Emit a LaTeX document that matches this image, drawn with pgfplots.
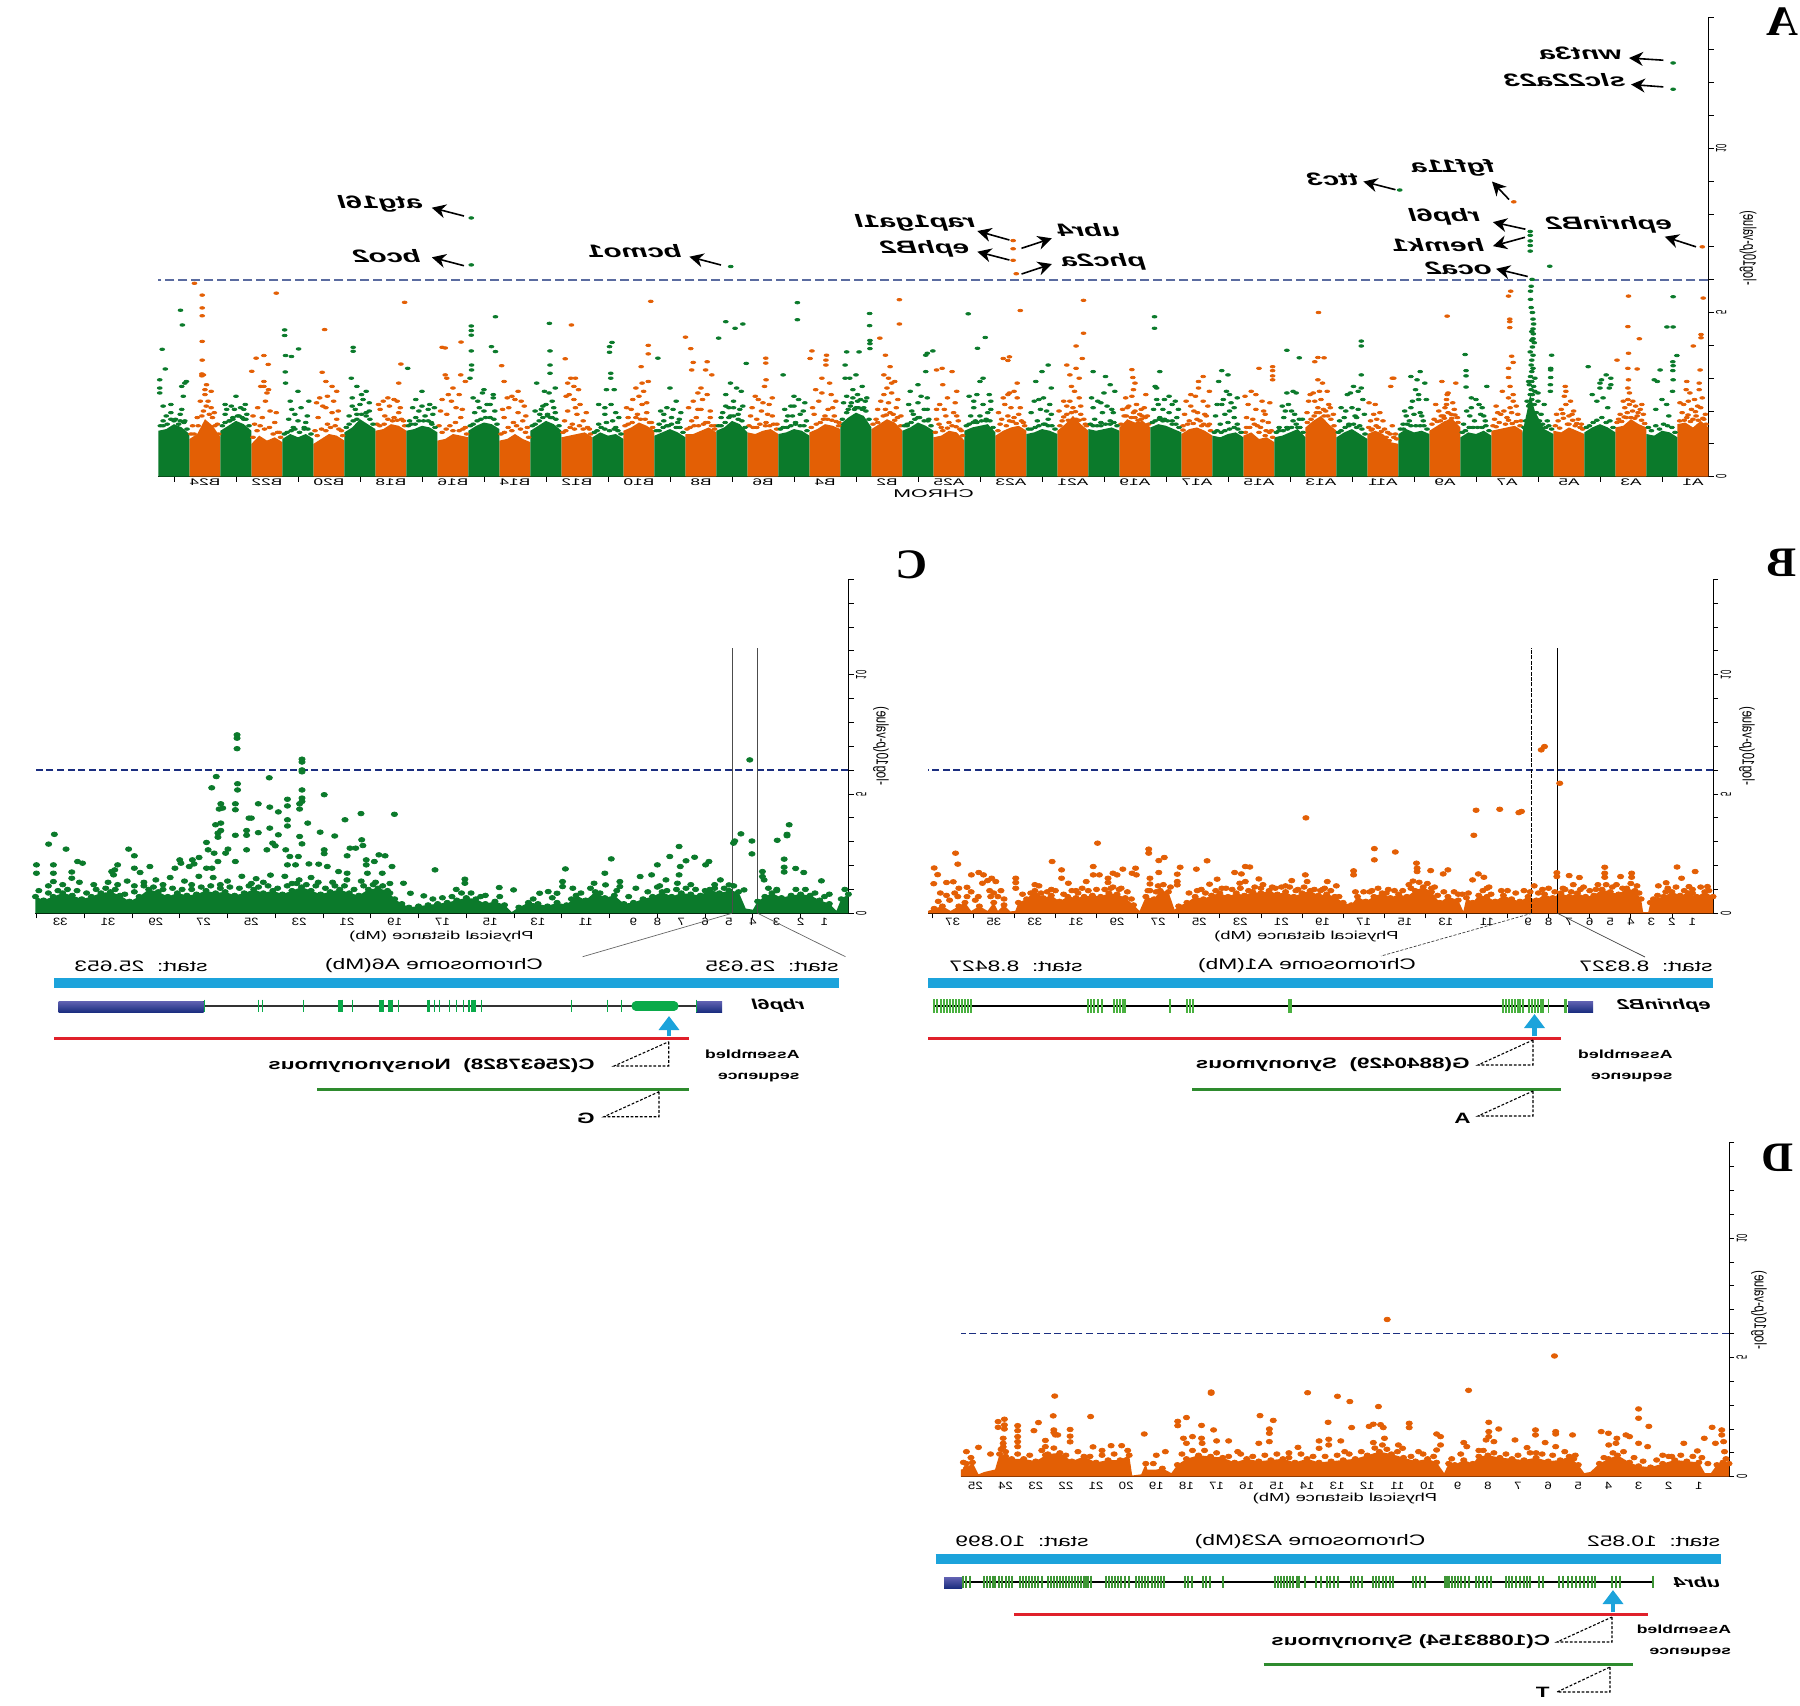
\documentclass[border=0pt]{standalone}
\usepackage{fontspec}
\setmainfont{Liberation Sans}
\newfontfamily\serifbf{Liberation Serif}[Scale=1]
\usepackage{pgfplots}
\pgfplotsset{compat=1.18}
\usetikzlibrary{arrows.meta}
\definecolor{org}{HTML}{E35F05}
\definecolor{grn}{HTML}{0B7A2B}
\definecolor{exon}{HTML}{49B03F}
\definecolor{exonb}{HTML}{0AAA4A}
\definecolor{skyb}{HTML}{1CA3DB}
\definecolor{thrA}{HTML}{5A6BA0}
\definecolor{thrB}{HTML}{1B2E80}
\definecolor{redl}{HTML}{E0202A}
\definecolor{grnl}{HTML}{2E8B2E}
% the whole figure is a mirror image, and stretched sideways
\newcommand{\M}[2][1.5]{\scalebox{-#1}[1]{#2}}
\newcommand{\R}[2][1.9]{\scalebox{-#1}[1]{\rotatebox{90}{#2}}}
\newcommand{\gn}{\fontsize{9}{9}\selectfont\bfseries\itshape}
\pgfplotsset{
  manh/.style={
    scale only axis, anchor=south west, x dir=reverse,
    axis x line*=bottom, axis y line*=right,
    xmin=0, ymin=0, ymax=14,
    ytick={0,5,10}, minor ytick={1,2,3,4,6,7,8,9,11,12,13,14},
    yticklabels={\R{0},\R{5},\R{10}},
    tick align=outside, major tick length=2.6pt, minor tick length=2.6pt,
    every tick/.style={black,line width=.4pt},
    axis line style={line width=.5pt},
    yticklabel style={font=\fontsize{3.9}{4}\selectfont,inner sep=1pt,anchor=west},
    xticklabel style={inner sep=1pt,yshift=1.2pt},
    clip=false,
  },
  dots/.style={only marks,mark=*,mark size=#1,draw=none,mark options={xscale=1.15,yscale=.85}},
  dotsA/.style={only marks,mark=*,mark size=#1,draw=none,mark options={xscale=1.6,yscale=.85}},
}
\begin{document}
\begin{tikzpicture}
\path[use as bounding box] (0pt,0pt) rectangle (900pt,852.5pt);
% ---------------- A : genome wide
\begin{axis}[manh, at={(79.25pt,614.15pt)}, width=775pt, height=229.85pt, xmax=50,
  xtick={0.5,2.5,...,48.5}, minor xtick={1.5,3.5,...,49.5},
  every major x tick/.style={draw=none},
  xticklabels={\M[1.8]{A1},\M[1.8]{A3},\M[1.8]{A5},\M[1.8]{A7},\M[1.8]{A9},\M[1.8]{A11},\M[1.8]{A13},\M[1.8]{A15},\M[1.8]{A17},\M[1.8]{A19},\M[1.8]{A21},\M[1.8]{A23},\M[1.8]{A25},\M[1.8]{B2},\M[1.8]{B4},\M[1.8]{B6},\M[1.8]{B8},\M[1.8]{B10},\M[1.8]{B12},\M[1.8]{B14},\M[1.8]{B16},\M[1.8]{B18},\M[1.8]{B20},\M[1.8]{B22},\M[1.8]{B24}},
  xticklabel style={font=\fontsize{4.8}{5}\selectfont,yshift=1.6pt}]
\addplot[fill=org,draw=none] coordinates {(0,0)(0,1.5)(.25,1.7)(.5,1.5)(.75,1.65)(1,1.6)(1,0)
 (2,0)(2,1.5)(2.25,1.6)(2.5,1.75)(2.75,1.55)(3,1.5)(3,0)
 (4,0)(4,1.3)(4.25,1.4)(4.5,1.5)(4.75,1.35)(5,1.4)(5,0)
 (6,0)(6,1.4)(6.25,1.55)(6.5,1.5)(6.75,1.45)(7,1.4)(7,0)
 (8,0)(8,1.5)(8.25,1.75)(8.5,1.7)(8.75,1.55)(9,1.4)(9,0)
 (10,0)(10,1)(10.25,1.05)(10.5,1.3)(10.75,1.4)(11,1.3)(11,0)
 (12,0)(12,1.4)(12.25,1.6)(12.5,1.85)(12.75,1.7)(13,1.5)(13,0)
 (14,0)(14,1.05)(14.25,1.2)(14.5,1.15)(14.75,1.35)(15,1.25)(15,0)
 (16,0)(16,1.25)(16.25,1.4)(16.5,1.5)(16.75,1.45)(17,1.3)(17,0)
 (18,0)(18,1.5)(18.25,1.7)(18.5,1.65)(18.75,1.75)(19,1.5)(19,0)
 (20,0)(20,1.4)(20.25,1.6)(20.5,1.85)(20.75,1.6)(21,1.4)(21,0)
 (22,0)(22,1.4)(22.25,1.55)(22.5,1.5)(22.75,1.4)(23,1.25)(23,0)
 (24,0)(24,1.1)(24.25,1.35)(24.5,1.4)(24.75,1.25)(25,1.2)(25,0)
 (26,0)(26,1.4)(26.25,1.65)(26.5,1.75)(26.75,1.6)(27,1.45)(27,0)
 (28,0)(28,1.45)(28.25,1.55)(28.5,1.6)(28.75,1.45)(29,1.35)(29,0)
 (30,0)(30,1.3)(30.25,1.45)(30.5,1.4)(30.75,1.3)(31,1.35)(31,0)
 (32,0)(32,1.35)(32.25,1.5)(32.5,1.4)(32.75,1.3)(33,1.3)(33,0)
 (34,0)(34,1.4)(34.25,1.55)(34.5,1.65)(34.75,1.5)(35,1.4)(35,0)
 (36,0)(36,1.2)(36.25,1.35)(36.5,1.3)(36.75,1.25)(37,1.2)(37,0)
 (38,0)(38,1.05)(38.25,1.15)(38.5,1.3)(38.75,1.15)(39,1.1)(39,0)
 (40,0)(40,1.2)(40.25,1.25)(40.5,1.3)(40.75,1.15)(41,1.1)(41,0)
 (42,0)(42,1.4)(42.25,1.55)(42.5,1.6)(42.75,1.45)(43,1.4)(43,0)
 (44,0)(44,1.1)(44.25,1.25)(44.5,1.3)(44.75,1.15)(45,1)(45,0)
 (46,0)(46,1.05)(46.25,1.2)(46.5,1.1)(46.75,1.25)(47,1)(47,0)
 (48,0)(48,1.2)(48.25,1.55)(48.5,1.75)(48.75,1.3)(49,1.15)(49,0)};
\addplot[fill=grn,draw=none] coordinates {(1,0)(1,1.2)(1.25,1.35)(1.5,1.4)(1.75,1.25)(2,1.3)(2,0)
 (3,0)(3,1.35)(3.25,1.5)(3.5,1.6)(3.75,1.5)(4,1.35)(4,0)
 (5,0)(5,1.3)(5.3,1.45)(5.6,2)(5.75,2.5)(5.85,2)(6,1.35)(6,0)
 (7,0)(7,1.25)(7.25,1.4)(7.5,1.3)(7.75,1.35)(8,1.2)(8,0)
 (9,0)(9,1.3)(9.25,1.4)(9.5,1.35)(9.75,1.45)(10,1.3)(10,0)
 (11,0)(11,1.15)(11.25,1.3)(11.5,1.45)(11.75,1.35)(12,1.2)(12,0)
 (13,0)(13,1.2)(13.25,1.45)(13.5,1.35)(13.75,1.25)(14,1.2)(14,0)
 (15,0)(15,1.2)(15.25,1.35)(15.5,1.3)(15.75,1.2)(16,1.25)(16,0)
 (17,0)(17,1.35)(17.25,1.45)(17.5,1.55)(17.75,1.6)(18,1.5)(18,0)
 (19,0)(19,1.4)(19.25,1.5)(19.5,1.45)(19.75,1.4)(20,1.45)(20,0)
 (21,0)(21,1.3)(21.25,1.4)(21.5,1.45)(21.75,1.35)(22,1.3)(22,0)
 (23,0)(23,1.35)(23.25,1.6)(23.5,1.55)(23.75,1.5)(24,1.4)(24,0)
 (25,0)(25,1.4)(25.25,1.55)(25.5,1.65)(25.75,1.5)(26,1.4)(26,0)
 (27,0)(27,1.5)(27.25,1.85)(27.5,1.95)(27.75,1.8)(28,1.6)(28,0)
 (29,0)(29,1.25)(29.25,1.4)(29.5,1.45)(29.75,1.35)(30,1.3)(30,0)
 (31,0)(31,1.35)(31.25,1.6)(31.5,1.7)(31.75,1.5)(32,1.4)(32,0)
 (33,0)(33,1.2)(33.25,1.35)(33.5,1.45)(33.75,1.35)(34,1.25)(34,0)
 (35,0)(35,1.15)(35.25,1.3)(35.5,1.25)(35.75,1.35)(36,1.2)(36,0)
 (37,0)(37,1.4)(37.25,1.6)(37.5,1.7)(37.75,1.55)(38,1.4)(38,0)
 (39,0)(39,1.45)(39.25,1.6)(39.5,1.65)(39.75,1.55)(40,1.4)(40,0)
 (41,0)(41,1.35)(41.25,1.5)(41.5,1.55)(41.75,1.45)(42,1.4)(42,0)
 (43,0)(43,1.45)(43.25,1.6)(43.5,1.75)(43.75,1.5)(44,1.35)(44,0)
 (45,0)(45,1.15)(45.25,1.3)(45.5,1.2)(45.75,1.3)(46,1.15)(46,0)
 (47,0)(47,1.4)(47.25,1.6)(47.5,1.7)(47.75,1.55)(48,1.4)(48,0)
 (49,0)(49,1.3)(49.25,1.5)(49.5,1.6)(49.75,1.45)(50,1.4)(50,0)};
\addplot[dotsA=.75pt,org] coordinates {(.2,7)(.17,5.44)(.24,4.33)(.24,4.23)(.49,3.98)(.27,3.25)(.7,2.9)(.3,2.85)(2.58,5.5)(2.6,4.57)(2.23,4.2)(2.58,3.76)(2.95,3.55)(2.6,3.3)(2.3,3.28)(6.28,8.37)(6.38,5.65)(6.45,5.5)(6.41,4.8)(6.41,4.72)(6.41,4.54)(6.35,3.67)(6.3,3.48)(6.45,3.3)(6.45,3.02)(8.43,4.89)(12.58,5)(12.6,3.63)(12.4,3.62)(12.7,3.5)(10.2,3)(14.5,3.3)(14.06,3.35)(14.06,3.23)(14.06,3.07)(14.06,2.95)(18.6,3.26)(18.57,3.02)(18.5,2.85)(16.3,3.05)(16.45,2.9)(16.1,2.6)
 (.1,1.9)(.25,2.1)(.4,1.85)(.55,2.05)(.7,1.8)(.85,1.95)(.2,2.4)(.45,2.35)(.65,2.3)(.3,2.65)(.72,2.65)(.6,2.55)(.15,1.75)(.8,2.2)(.5,1.75)
 (2.1,1.9)(2.2,2.05)(2.3,1.85)(2.45,2)(2.55,2.2)(2.6,2.35)(2.7,2.1)(2.85,1.9)(2.55,2.55)(2.6,2.7)(2.58,2.95)(2.35,2.15)(2.75,2.3)(2.5,1.8)(2.9,1.75)(2.65,1.8)
 (4.1,1.6)(4.2,1.75)(4.35,2)(4.5,1.85)(4.6,2.2)(4.65,2.45)(4.6,2.6)(4.62,2.75)(4.75,2.05)(4.85,1.7)(4.3,1.55)(4.45,2.3)(4.9,1.9)(4.55,1.6)
 (6.05,1.7)(6.15,1.9)(6.3,2.3)(6.4,2.1)(6.5,1.8)(6.6,2)(6.7,1.9)(6.9,1.75)(6.3,2.5)(6.45,2.4)(6.4,2.75)(6.65,2.6)(6.85,2.15)(6.2,2.15)
 (8.1,1.8)(8.2,2.05)(8.3,1.9)(8.45,2.2)(8.55,1.85)(8.7,2)(8.85,1.75)(8.4,2.55)(8.45,2.35)(8.6,2.9)(8.15,2.85)(8.8,2.2)(8.35,1.7)(8.65,1.7)(8.43,2.5)
 (10.1,1.3)(10.2,1.55)(10.35,1.35)(10.5,1.7)(10.65,1.5)(10.8,1.9)(10.9,1.7)(10.75,2.2)(10.95,2.25)(10.25,2.75)(10.15,3)(10.85,1.45)(10.4,1.2)(10.6,1.95)(10.3,1.1)
 (12.1,1.9)(12.2,2.1)(12.35,2)(12.5,2.35)(12.6,2.1)(12.75,2.55)(12.9,2.3)(12.3,2.6)(12.55,2.6)(12.7,2.3)(12.85,2.5)(12.6,2.95)(12.4,1.85)(12.65,1.95)(12.45,2.85)
 (14.1,1.4)(14.2,1.65)(14.3,1.9)(14.45,1.5)(14.6,2.05)(14.7,1.75)(14.85,2.2)(14.9,1.5)(14.15,2.25)(14.4,2.3)(14.6,2.5)(14.75,2.6)(14.95,2.45)(14.5,1.35)(14.3,1.25)
 (16.1,1.6)(16.2,1.85)(16.35,1.55)(16.5,1.75)(16.6,2)(16.75,1.7)(16.9,1.9)(16.3,2.3)(16.55,2.45)(16.7,2.5)(16.45,2.7)(16.85,2.3)(16.15,2.15)(16.95,1.55)
 (18.1,1.85)(18.2,2.1)(18.35,1.9)(18.45,2.2)(18.55,1.95)(18.7,2.15)(18.85,1.85)(18.6,2.45)(18.55,2.65)(18.15,2.5)(18.8,2.4)(18.3,1.75)(18.9,2.05)(18.5,1.8)
 (20.1,1.6)(20.25,1.9)(20.4,1.75)(20.5,2.1)(20.6,2.3)(20.7,1.9)(20.85,1.7)(20.45,2.6)(20.55,2.75)(20.3,2.4)(20.8,2.3)(20.95,2)(20.6,3.1)(20.4,3.3)(20.2,3.6)(20.4,3.98)(20.16,4.37)(20.16,5.37)(20.3,3)(20.7,3.4)
 (22.1,1.65)(22.25,1.9)(22.4,1.8)(22.5,2.1)(22.6,1.85)(22.7,2.2)(22.85,1.6)(22.3,2.4)(22.55,2.55)(22.75,2.4)(22.4,2.6)(22.6,2.5)(22.2,5.06)(22.6,3.54)(22.75,3.6)(22.55,3.65)(22.3,2.85)(22.43,7.19)(22.43,6.94)(22.43,6.59)(22.33,6.18)
 (24.1,1.4)(24.2,1.7)(24.35,1.95)(24.5,1.65)(24.6,1.85)(24.75,1.5)(24.9,1.75)(24.3,2.25)(24.55,2.4)(24.65,2.05)(24.8,2.2)(24.4,3.2)(24.72,3.3)(24.9,3.25)(24.25,2.6)(24.7,2.8)
 (26.05,1.85)(26.2,2.1)(26.3,1.9)(26.45,2.25)(26.55,2.05)(26.7,2.3)(26.85,1.75)(26.35,2.55)(26.5,2.7)(26.25,2.9)(26.6,2.5)(26.1,5.39)(26.1,4.65)(26.73,4.22)(26.55,3.7)(26.4,3.35)(26.6,3.1)(26.45,3)(26.35,2.85)
 (28.05,1.65)(28.2,1.85)(28.4,2.05)(28.55,1.75)(28.7,2.3)(28.85,1.9)(28.3,2.5)(28.6,2.55)(28.8,2.65)(28.15,2.3)(28.92,3.83)(28.98,3.6)(28.47,3.55)(28.47,3.4)(28.45,3.7)(28.6,3)(28.35,2.85)
 (30.05,1.6)(30.2,1.85)(30.4,1.65)(30.55,2)(30.7,1.75)(30.85,2.1)(30.3,2.2)(30.5,2.25)(30.65,2.35)(30.41,3.61)(30.41,3.46)(30.45,2.75)(30.4,2.95)(30.2,2.4)(30.75,2.45)
 (32.05,1.55)(32.2,1.8)(32.35,1.65)(32.5,2.05)(32.65,1.8)(32.8,1.7)(32.9,2.1)(32.75,2.3)(32.45,2.35)(32.3,2.5)(33,4.25)(32.83,3.9)(32.75,3.48)(32.8,3.25)(32.3,3.5)(32.35,3.25)(32.15,3.1)(32.5,2.7)(32.6,2.55)
 (34.1,1.65)(34.25,1.95)(34.4,2.2)(34.55,1.9)(34.7,2.35)(34.85,1.8)(34.35,2.6)(34.6,2.7)(34.5,2.45)(34.12,5.34)(34.2,4)(34.2,3.74)(34.43,3.35)(34.2,2.9)(34.4,2.85)(34.75,2.05)
 (36.1,1.45)(36.3,1.7)(36.5,1.9)(36.65,1.6)(36.8,2)(36.9,1.7)(36.4,2.2)(36.6,2.35)(36.75,2.5)(36.68,4.62)(36.88,3.59)(36.55,3)(36.7,3)(36.8,2.85)(36.6,2.75)(36.45,2.65)(36.85,2.45)
 (38.1,1.5)(38.25,1.7)(38.4,1.95)(38.55,1.65)(38.7,2.1)(38.85,1.8)(38.3,2.3)(38.5,2.35)(38.75,2.4)(38.93,3.38)(38.85,2.9)(38.6,2.45)(38.4,2.6)(38.2,2.15)
 (40.1,1.5)(40.25,1.8)(40.4,2.1)(40.55,2.3)(40.7,1.9)(40.85,2.35)(40.3,2.5)(40.5,2.7)(40.65,2.5)(40.85,3.94)(40.75,3.92)(40.24,4.1)(40.75,3.1)(40.7,3)(40.25,3.1)(40.1,2.9)(40.5,1.4)
 (42.1,1.7)(42.25,1.95)(42.4,1.8)(42.55,2.15)(42.7,1.85)(42.85,2.05)(42.3,2.3)(42.6,2.4)(42.06,5.31)(42.18,3.43)(42.25,2.85)(42.4,2.35)(42.75,2.3)
 (44.1,1.4)(44.25,1.75)(44.4,1.95)(44.55,1.6)(44.7,2.15)(44.85,1.8)(44.35,2.3)(44.55,2.45)(44.8,2.4)(44.64,4.48)(44.72,3.18)(44.6,2.9)(44.4,2.75)(44.25,2.6)(44.9,2.25)
 (46.1,1.35)(46.25,1.65)(46.4,2)(46.55,2.3)(46.65,1.8)(46.8,2.1)(46.9,1.6)(46.5,2.55)(46.6,2.75)(46.45,2.65)(46.2,5.59)(46.85,3.61)(46.6,3.69)(46.46,3.42)(46.99,3.21)(46.7,2.75)(46.6,2.9)
 (48.1,1.6)(48.3,2.1)(48.4,2.3)(48.5,2.5)(48.55,2)(48.65,2.3)(48.75,1.8)(48.9,1.55)(48.45,2.8)(48.55,3.1)(48.84,5.89)(48.59,5.53)(48.59,5.14)(48.59,4.9)(48.59,4.12)(48.59,3.55)(48.6,3.13)(48.6,3.07)(48.5,2.65)(48.3,2.6)
 (.08,1.6)(.18,1.78)(.33,1.72)(.42,1.98)(.58,1.68)(.66,1.88)(.78,1.72)(.93,1.7)(.35,2.15)(.92,2.25)
 (2.06,1.62)(2.16,1.72)(2.27,1.95)(2.38,1.78)(2.62,1.95)(2.8,1.68)(2.95,1.65)(2.44,2.3)(2.72,1.82)(2.15,2.2)
 (4.06,1.45)(4.14,1.5)(4.25,1.62)(4.38,1.72)(4.5,1.6)(4.68,1.78)(4.8,1.48)(4.94,1.55)(4.4,1.9)(4.7,1.92)
 (6.08,1.55)(6.2,1.68)(6.33,1.62)(6.45,1.72)(6.55,1.6)(6.75,1.65)(6.85,1.52)(6.95,1.55)(6.35,1.95)(6.8,1.95)
 (8.08,1.65)(8.18,1.88)(8.28,1.78)(8.4,1.95)(8.52,1.78)(8.62,1.85)(8.75,1.68)(8.92,1.6)(8.5,2.1)(8.25,2.25)
 (10.06,1.15)(10.15,1.2)(10.27,1.3)(10.45,1.45)(10.55,1.38)(10.72,1.55)(10.88,1.42)(10.96,1.5)(10.5,1.2)(10.7,1.75)
 (12.08,1.55)(12.18,1.75)(12.28,1.85)(12.42,2.05)(12.55,1.95)(12.72,1.85)(12.82,1.75)(12.94,1.65)(12.25,2.2)(12.95,1.95)
 (14.06,1.2)(14.16,1.35)(14.27,1.4)(14.38,1.7)(14.55,1.55)(14.65,1.6)(14.8,1.5)(14.94,1.35)(14.35,2)(14.9,1.8)
 (16.06,1.4)(16.15,1.55)(16.28,1.6)(16.4,1.7)(16.48,1.95)(16.62,1.62)(16.8,1.6)(16.95,1.42)(16.25,1.9)(16.7,2.15)
 (18.06,1.6)(18.17,1.8)(18.27,1.85)(18.4,1.72)(18.5,2)(18.62,1.8)(18.78,1.85)(18.95,1.6)(18.3,2.05)(18.75,2.1)
 (20.06,1.55)(20.15,1.75)(20.3,1.72)(20.42,1.98)(20.55,1.95)(20.65,1.72)(20.8,1.82)(20.92,1.55)(20.25,2.15)(20.7,2.15)
 (22.06,1.55)(22.16,1.7)(22.33,1.62)(22.45,1.68)(22.55,1.7)(22.65,1.55)(22.8,1.75)(22.92,1.4)(22.2,2.1)(22.9,1.95)
 (24.06,1.25)(24.15,1.45)(24.27,1.52)(24.4,1.55)(24.55,1.48)(24.7,1.4)(24.82,1.6)(24.94,1.35)(24.25,1.85)(24.9,2.05)
 (26.06,1.55)(26.16,1.8)(26.25,1.72)(26.4,1.95)(26.52,1.88)(26.62,1.85)(26.8,1.65)(26.95,1.6)(26.15,2.35)(26.8,2.05)
 (28.06,1.55)(28.14,1.68)(28.28,1.72)(28.42,1.75)(28.5,1.85)(28.65,1.65)(28.78,1.6)(28.94,1.5)(28.25,2.1)(28.9,2.1)
 (30.06,1.45)(30.16,1.6)(30.28,1.55)(30.42,1.55)(30.6,1.6)(30.7,1.5)(30.82,1.5)(30.95,1.55)(30.35,1.9)(30.9,1.85)
 (32.06,1.45)(32.16,1.55)(32.28,1.65)(32.42,1.6)(32.58,1.55)(32.72,1.55)(32.85,1.5)(32.95,1.45)(32.2,2)(32.6,2.05)
 (34.06,1.5)(34.16,1.65)(34.3,1.75)(34.45,1.75)(34.6,1.8)(34.72,1.65)(34.85,1.6)(34.95,1.55)(34.25,2.25)(34.9,2.1)
 (36.06,1.3)(36.16,1.5)(36.3,1.45)(36.42,1.55)(36.58,1.45)(36.72,1.5)(36.86,1.4)(36.95,1.35)(36.2,1.95)(36.55,2.1)
 (38.06,1.2)(38.16,1.35)(38.32,1.45)(38.45,1.55)(38.6,1.4)(38.72,1.5)(38.84,1.35)(38.95,1.3)(38.15,1.85)(38.9,2.05)
 (40.06,1.3)(40.18,1.45)(40.3,1.4)(40.42,1.65)(40.6,1.55)(40.72,1.45)(40.85,1.35)(40.95,1.55)(40.2,2.05)(40.9,2)
 (42.06,1.55)(42.16,1.75)(42.3,1.72)(42.45,1.7)(42.6,1.75)(42.72,1.6)(42.86,1.55)(42.95,1.6)(42.2,2.1)(42.9,2.2)
 (44.06,1.25)(44.18,1.45)(44.3,1.55)(44.45,1.5)(44.6,1.4)(44.74,1.45)(44.88,1.25)(44.95,1.4)(44.2,2)(44.6,2.1)
 (46.06,1.2)(46.16,1.35)(46.3,1.3)(46.42,1.5)(46.58,1.45)(46.72,1.55)(46.82,1.4)(46.95,1.2)(46.2,1.95)(46.95,1.85)
 (48.06,1.3)(48.18,1.55)(48.26,1.8)(48.36,1.9)(48.46,2.15)(48.6,1.85)(48.72,1.55)(48.85,1.3)(48.95,1.3)(48.2,1.95)};
\addplot[dotsA=.75pt,grn] coordinates {(1.14,12.6)(1.14,11.8)(1.14,5.48)(1.34,4.56)(1.14,4.56)(1.02,3.69)(1.15,3.5)(1.14,3.38)(1.15,3.23)(1.56,3.25)(1.14,2.95)(1.16,2.6)(1.75,2.95)(1.65,2.9)(3.88,3.35)(3.3,3.1)(3.45,2.95)(3.15,2.8)(3.15,3)(3.2,2.7)(3.5,2.7)(3.5,2.85)
 (5.75,7.47)(5.75,7.35)(5.75,7.18)(5.75,7.04)(5.75,6.87)(5.12,6.41)(5.69,6.01)(5.72,5.8)(5.74,5.65)(5.74,5.4)(5.72,5.15)(5.68,5)(5.66,4.8)(5.64,4.65)(5.66,4.5)(5.7,4.42)(5.65,4.35)(5.66,4.2)(5.62,4.08)(5.7,4.15)(5.68,3.95)(5.75,3.8)(5.66,3.7)(5.7,3.55)(5.72,3.4)(5.66,3.3)(5.7,3.2)(5.74,3.05)(5.6,3)(5.7,2.9)(5.78,2.8)(5.64,2.75)(5.72,2.65)(5.6,2.6)(5.75,2.5)(5.06,3.7)(5.09,3.3)(5.09,3.25)(5.09,3.02)(5.1,2.8)(5.1,2.6)(5.3,2.2)(5.5,2.3)(5.4,1.9)(5.2,1.7)(5.8,2.9)(5.5,2.55)(5.85,2.3)(5.35,1.6)
 (7.85,3.72)(7.82,3.23)(7.82,3.07)(7.82,2.73)(7.15,2.75)(7.4,2.2)(7.65,2.4)(7.35,1.9)(7.5,2.35)(7.2,1.7)(7.7,1.85)(7.9,1.6)(7.55,1.7)(7.3,2.1)
 (9.96,8.73)(9.3,3.2)(9.15,2.85)(9.4,2.95)(9.1,2.35)(9.6,3.05)(9.45,2.65)(9.35,2.5)(9.35,2.35)(9.6,2.1)(9.75,1.85)(9.2,1.7)(9.5,1.9)(9.85,1.6)(9.65,1.7)(9.3,1.95)
 (11.2,4.13)(11.2,3.98)(11.2,3.1)(11.2,2.7)(11.3,2.6)(11.45,2.75)(11.55,2.55)(11.65,2.5)(11.15,2.35)(11.5,2.1)(11.3,2.05)(11.7,2)(11.85,2.1)(11.4,1.85)(11.6,1.6)(11.25,1.55)(11.9,1.7)
 (13.6,3.85)(13.2,3.62)(13.4,2.6)(13.6,2.55)(13.3,2.55)(13.55,2.2)(13.75,2.15)(13.45,2)(13.2,1.75)(13.7,1.8)(13.4,1.7)(13.6,1.5)(13.85,1.5)(13.25,1.5)
 (15.7,3.23)(15.5,3.1)(15.8,2.9)(15.55,2.6)(15.45,2.5)(15.2,2.4)(15.4,2.25)(15.7,2.2)(15.85,2.2)(15.3,2.1)(15.6,1.9)(15.9,1.85)(15.2,1.6)(15.5,1.65)(15.75,1.6)
 (17.87,4.87)(17.87,4.52)(17.7,3.2)(17.85,2.75)(17.8,2.7)(17.4,2.45)(17.55,2.35)(17.2,2.3)(17.6,2.05)(17.75,2.2)(17.4,1.95)(17.9,2.05)(17.15,1.8)(17.7,1.8)(17.3,1.7)(17.55,1.75)
 (19.3,2.8)(19.5,2.55)(19.15,2.6)(19.7,2.3)(19.4,2.15)(19.85,2.1)(19.25,2.05)(19.55,1.95)(19.8,1.75)(19.3,1.7)(19.6,1.65)(19.45,3.05)(19.85,3.2)
 (21.3,3.4)(21.5,3.2)(21.7,2.9)(21.2,2.7)(21.45,2.4)(21.75,2.3)(21.25,2.2)(21.55,2.05)(21.85,1.95)(21.3,1.75)(21.65,1.7)(21.4,1.6)
 (23.88,4.96)(23.33,4.24)(23.58,3.91)(23.4,3)(23.5,2.9)(23.2,2.5)(23.6,2.5)(23.85,2.45)(23.4,2.2)(23.7,2.1)(23.15,2.05)(23.5,1.85)(23.8,1.85)(23.3,1.7)(23.65,1.7)
 (25.2,3.76)(25.25,3.7)(25.02,3.83)(25.25,3.2)(25.5,2.8)(25.75,2.6)(25.2,2.4)(25.5,2.25)(25.8,2.2)(25.3,2.05)(25.65,1.9)(25.15,1.75)(25.5,1.8)(25.85,1.6)
 (27.06,4.97)(27.06,4.6)(27.05,4.15)(27.05,4.05)(27.05,3.9)(27.8,3.8)(27.4,3.8)(27.85,3.4)(27.5,3.1)(27.7,3)(27.85,3)(27.3,2.75)(27.6,2.65)(27.45,2.5)(27.8,2.45)(27.15,2.4)(27.35,2.35)(27.65,2.25)(27.9,2.25)(27.25,2.1)(27.5,2.1)(27.75,2.05)
 (29.39,5.3)(29.39,4.78)(29.85,3.1)(29.5,2.45)(29.35,2.35)(29.15,2.25)(29.6,2.15)(29.8,2.05)(29.3,1.9)(29.55,1.85)(29.1,1.7)(29.75,1.7)(29.45,1.6)
 (31.54,6.4)(31.7,4.72)(31.4,4.52)(31.15,4.65)(31.93,4.22)(31.04,3.45)(31.55,2.85)(31.35,2.7)(31.2,2.6)(31.7,2.5)(31.45,2.3)(31.15,2.15)(31.6,2.1)(31.8,1.95)(31.3,1.9)(31.55,1.85)(31.85,1.8)
 (33.89,3.61)(33.5,2.7)(33.3,2.3)(33.6,2.1)(33.8,2)(33.15,1.95)(33.45,1.8)(33.7,1.7)(33.25,1.65)(33.55,1.55)(33.85,1.6)
 (35.37,4.09)(35.45,3.96)(35.45,3.79)(35.41,3.15)(35.41,3)(35.3,2.65)(35.55,2.65)(35.4,2.2)(35.6,2.1)(35.15,1.8)(35.35,1.7)(35.55,1.65)(35.8,1.6)(35.25,1.5)
 (37.39,4.67)(37.37,3.83)(37.37,3.4)(37.37,3.15)(37.8,2.85)(37.2,2.7)(37.4,2.55)(37.55,2.6)(37.3,2.3)(37.6,2.15)(37.85,2)(37.2,1.95)(37.45,1.9)(37.7,1.9)(37.35,1.8)
 (39.91,7.88)(39.91,6.45)(39.91,4.59)(39.91,4.45)(39.91,4.31)(39.91,3.83)(39.13,4.87)(39.26,3.96)(39.13,3.81)(39.9,3.4)(39.9,3.25)(39.95,3)(39.5,2.65)(39.2,2.5)(39.55,2.55)(39.2,2.4)(39.4,2.2)(39.7,2.3)(39.15,2)(39.5,2)(39.8,1.95)
 (41.96,3.3)(41.5,2.6)(41.7,2.35)(41.25,2.2)(41.5,2.15)(41.8,2.1)(41.15,1.9)(41.4,1.85)(41.7,1.8)(41.9,1.7)(41.2,1.65)
 (43.72,3.94)(43.72,3.82)(43.78,3)(43.3,2.6)(43.6,2.75)(43.45,2.5)(43.75,2.4)(43.2,2.25)(43.5,2.2)(43.75,2.15)(43.3,1.95)(43.6,1.9)(43.85,1.85)
 (45.93,4.47)(45.93,4.3)(45.48,3.89)(45.9,3.69)(45.71,3.66)(45.91,3.19)(45.9,2.85)(45.5,2.6)(45.15,2.3)(45.4,2.1)(45.7,2.05)(45.2,1.85)(45.5,1.7)(45.8,1.75)(45.3,1.5)(45.65,1.5)
 (47.5,2.45)(47.2,2.2)(47.35,2.1)(47.65,2.15)(47.8,2.05)(47.15,1.9)(47.4,1.85)(47.6,1.8)(47.85,1.9)(47.25,1.75)(47.7,1.7)
 (49.29,5.07)(49.23,4.62)(49.88,3.88)(49.78,3.28)(49.96,2.95)(49.1,2.9)(49.15,2.85)(49.25,2.75)(49.96,2.7)(49.96,2.55)(49.2,2.45)(49.6,1.95)(49.3,1.9)(49.75,1.85)(49.15,1.7)(49.5,1.7)(49.85,1.7)(49.35,1.6)
 (1.08,1.35)(1.18,1.5)(1.32,1.55)(1.45,1.6)(1.58,1.45)(1.7,1.55)(1.84,1.4)(1.94,1.5)(1.28,1.85)(1.7,2.05)(1.5,2.35)(1.35,2.2)
 (3.08,1.5)(3.18,1.7)(3.3,1.65)(3.44,1.8)(3.6,1.72)(3.72,1.65)(3.84,1.55)(3.94,1.5)(3.25,2.1)(3.6,2.3)(3.75,2.5)(3.4,2.4)
 (5.06,1.45)(5.15,1.55)(5.25,1.5)(5.45,1.7)(5.55,1.95)(5.62,2.2)(5.7,2.35)(5.8,2.15)(5.9,1.7)(5.95,1.5)(5.68,2.5)(5.76,2.2)
 (7.08,1.4)(7.18,1.55)(7.3,1.5)(7.45,1.5)(7.6,1.5)(7.72,1.5)(7.84,1.4)(7.94,1.35)(7.25,1.85)(7.8,2)(7.65,2.1)
 (9.08,1.45)(9.18,1.55)(9.3,1.55)(9.44,1.55)(9.6,1.55)(9.72,1.6)(9.84,1.45)(9.94,1.45)(9.25,1.85)(9.8,2)(9.55,2.3)
 (11.08,1.3)(11.18,1.45)(11.35,1.5)(11.45,1.6)(11.6,1.55)(11.72,1.5)(11.85,1.4)(11.94,1.35)(11.35,1.8)(11.75,1.8)(11.1,1.9)
 (13.08,1.35)(13.18,1.5)(13.3,1.6)(13.45,1.5)(13.58,1.45)(13.72,1.4)(13.85,1.4)(13.94,1.35)(13.35,1.9)(13.65,2)(13.1,1.75)
 (15.08,1.35)(15.18,1.45)(15.3,1.5)(15.45,1.45)(15.6,1.4)(15.72,1.35)(15.85,1.4)(15.94,1.35)(15.3,1.8)(15.65,2.35)(15.45,2)
 (17.08,1.5)(17.18,1.6)(17.3,1.6)(17.45,1.7)(17.6,1.7)(17.72,1.75)(17.85,1.7)(17.94,1.65)(17.3,2.2)(17.8,2.35)(17.1,2.05)
 (19.08,1.55)(19.18,1.65)(19.3,1.6)(19.45,1.6)(19.6,1.55)(19.72,1.55)(19.85,1.55)(19.94,1.6)(19.2,1.95)(19.6,2.25)(19.9,2.4)
 (21.08,1.45)(21.18,1.55)(21.3,1.55)(21.45,1.6)(21.6,1.55)(21.72,1.5)(21.85,1.45)(21.94,1.45)(21.2,1.9)(21.6,2.35)(21.35,2)
 (23.08,1.5)(23.18,1.7)(23.3,1.75)(23.45,1.7)(23.6,1.65)(23.72,1.65)(23.85,1.6)(23.94,1.55)(23.25,1.95)(23.7,2.3)(23.15,2.3)
 (25.08,1.55)(25.18,1.7)(25.3,1.7)(25.45,1.8)(25.6,1.75)(25.72,1.65)(25.85,1.55)(25.94,1.55)(25.2,2.05)(25.7,2)(25.4,2.45)
 (27.08,1.75)(27.18,2)(27.3,2.05)(27.42,2.1)(27.55,2.05)(27.68,2.15)(27.8,1.95)(27.94,1.75)(27.2,2.3)(27.6,2.4)(27.45,2.3)
 (29.08,1.4)(29.18,1.55)(29.3,1.55)(29.45,1.65)(29.6,1.55)(29.72,1.5)(29.85,1.5)(29.94,1.45)(29.2,2)(29.7,1.85)(29.5,2.15)
 (31.08,1.5)(31.18,1.7)(31.3,1.75)(31.45,1.85)(31.6,1.8)(31.72,1.65)(31.85,1.55)(31.94,1.55)(31.25,2.05)(31.7,2.15)(31.45,2.1)
 (33.08,1.35)(33.18,1.5)(33.3,1.5)(33.45,1.6)(33.6,1.55)(33.72,1.5)(33.85,1.4)(33.94,1.4)(33.2,1.75)(33.7,1.9)(33.4,2.05)
 (35.08,1.3)(35.18,1.4)(35.3,1.45)(35.45,1.4)(35.6,1.45)(35.72,1.5)(35.85,1.4)(35.94,1.35)(35.25,1.95)(35.6,1.9)(35.8,2.2)
 (37.08,1.55)(37.18,1.75)(37.3,1.8)(37.45,1.85)(37.6,1.8)(37.72,1.7)(37.85,1.6)(37.94,1.55)(37.25,2.1)(37.65,2.05)(37.5,2.2)
 (39.08,1.6)(39.18,1.75)(39.3,1.8)(39.45,1.8)(39.6,1.75)(39.72,1.7)(39.85,1.6)(39.94,1.55)(39.3,2.2)(39.65,2.1)(39.85,2.4)
 (41.08,1.5)(41.18,1.6)(41.3,1.7)(41.45,1.7)(41.6,1.7)(41.72,1.6)(41.85,1.6)(41.94,1.55)(41.3,2.05)(41.6,2)(41.1,2.1)
 (43.08,1.6)(43.18,1.75)(43.3,1.85)(43.45,1.9)(43.6,1.75)(43.72,1.7)(43.85,1.6)(43.94,1.5)(43.2,2)(43.65,2.05)(43.4,2.35)
 (45.08,1.3)(45.18,1.45)(45.3,1.45)(45.45,1.35)(45.6,1.45)(45.72,1.4)(45.85,1.35)(45.94,1.3)(45.25,1.65)(45.6,1.9)(45.75,2.3)
 (47.08,1.55)(47.18,1.75)(47.3,1.8)(47.45,1.85)(47.6,1.75)(47.72,1.7)(47.85,1.65)(47.94,1.55)(47.25,2.05)(47.55,2.05)(47.85,2.2)
 (49.08,1.45)(49.18,1.65)(49.3,1.7)(49.45,1.75)(49.6,1.75)(49.72,1.6)(49.85,1.55)(49.94,1.55)(49.25,2.05)(49.6,2.2)(49.85,2.15)};
\addplot[thrA,dashed,line width=1pt,dash pattern=on 4.5pt off 2pt] coordinates {(0,6)(50,6)};
\end{axis}
% ---------------- B : chromosome A1
\begin{axis}[manh, at={(464pt,395.85pt)}, width=392.5pt, height=167pt, xmax=38.2,
  xtick={1,2,...,9,11,13,...,37}, minor xtick={2,4,...,38},
  every major x tick/.style={draw=none},
  xticklabels={\M[1.25]{1},\M[1.25]{2},\M[1.25]{3},\M[1.25]{4},\M[1.25]{5},\M[1.25]{6},\M[1.25]{7},\M[1.25]{8},\M[1.25]{9},\M[1.25]{11},\M[1.25]{13},\M[1.25]{15},\M[1.25]{17},\M[1.25]{19},\M[1.25]{21},\M[1.25]{23},\M[1.25]{25},\M[1.25]{27},\M[1.25]{29},\M[1.25]{31},\M[1.25]{33},\M[1.25]{35},\M[1.25]{37}},
  xticklabel style={font=\fontsize{5.3}{5.5}\selectfont}]
\addplot[fill=org,draw=none] coordinates {(0,0)(0,.7)(.4,.9)(.8,.7)(1.2,.85)(1.6,.75)(2,.9)(2.4,.7)(2.9,.6)(3.05,.45)(3.15,.05)(3.4,.05)(3.5,.6)(3.8,.95)(4.2,1.05)(4.6,.8)(5,.9)(5.4,1)(5.8,.75)(6.2,.7)(6.6,.85)(7,.7)(7.4,.85)(7.8,.65)(8.2,.8)(8.6,.55)(9,.7)(9.4,.5)(9.8,.6)(10.2,.75)(10.6,.5)(11,.7)(11.4,.75)(11.7,.45)(12,.65)(12.15,.08)(12.4,.55)(12.9,.7)(13.3,.45)(13.7,.9)(14.1,1.1)(14.5,.95)(14.9,.7)(15.3,.8)(15.7,.65)(16.1,.85)(16.5,.7)(16.9,.5)(17.3,.7)(17.6,.35)(18,.45)(18.4,.7)(18.8,.8)(19.2,.75)(19.6,.95)(20,.85)(20.4,.7)(20.8,.9)(21.2,.8)(21.6,.95)(22,.85)(22.4,.9)(22.8,.75)(23.2,.85)(23.6,.7)(24,.85)(24.4,.75)(24.8,.6)(25.2,.7)(25.6,.45)(26,.3)(26.2,.15)(26.5,.9)(26.9,.95)(27.2,.6)(27.6,.7)(27.9,.1)(28.2,.35)(28.6,.65)(29,.8)(29.4,.85)(29.8,.7)(30.2,.75)(30.6,.7)(31,.65)(31.4,.7)(31.8,.5)(32.2,.75)(32.6,.65)(33,.95)(33.4,.6)(33.8,.45)(33.95,.1)(34.2,.08)(34.5,.35)(34.8,.1)(35,.45)(35.3,.1)(35.7,.3)(36.1,.1)(36.4,.45)(36.7,.3)(37.1,.1)(37.5,.3)(37.9,.2)(38.2,.1)(38.2,0)};
\addplot[dots=1.35pt,org] coordinates {(8.2,6.99)(8.36,6.85)(7.46,5.45)(11.53,4.32)(10.38,4.36)(9.32,4.27)(9.45,4.22)(19.81,4)(11.64,3.27)(29.95,2.94)(16.48,2.71)(16.48,2.24)(15.46,2.57)(36.86,2.52)(36.75,2.06)(27.46,2.69)(27.46,2.52)(26.7,2.34)(26.97,2.21)(24.62,2.2)(32.16,2.17)(37.9,1.9)(37.73,1.62)(37.92,1.24)(30.16,1.96)(1.75,1.94)(.87,1.75)(5.27,1.93)(25.93,1.93)(22.76,1.96)(22.54,1.94)(14.43,2.1)(14.4,1.89)(14.4,1.75)(13.74,1.79)(13.13,1.65)(12.9,1.82)(11.7,1.4)(11.42,1.65)(11.15,1.51)(7.6,1.7)(7.6,1.54)(7,1.58)(6.5,1.5)(5.27,1.68)(5.27,1.51)(4.5,1.54)(3.96,1.68)(3.96,1.51)(1.53,1.47)(2.28,1.28)(2.66,1.15)(.27,1.12)(1.17,1.12)(17.49,1.78)(17.49,1.61)(19.84,1.61)(18.77,1.33)(18.33,1.15)(20.5,1.37)(19.75,1.33)(22.1,1.44)(23.28,1.71)(22.95,1.65)(22.76,1.33)(23.03,1.26)(24.13,1.43)(24.5,1.22)(25.14,1.85)(26.07,1.64)(26.07,1.33)(26.07,1.19)(26.97,1.71)(27.4,1.47)(27.4,1.23)(28.1,1.89)(28.27,1.68)(28.06,1.61)(28.72,1.85)(29,1.61)(29.2,1.68)(29.44,1.47)(29.44,1.29)(30.16,1.61)(29.86,1.61)(30.5,1.33)(31.37,1.26)(31.7,1.47)(31.7,1.82)(33.93,1.47)(33.93,1.29)(33.93,1.05)(35.5,1.61)(35.73,1.71)(36.09,1.61)(35.1,1.47)(35.3,1.37)(35.55,1.26)(34.9,1.33)(36.3,1.09)(36.7,1.05)(37.3,1.29)(36.97,1.32)(36.1,.9)(35.2,.95)(34.8,.7)(37.6,.85)(37.3,.75)(36.75,.7)(35.75,.7)(35,.85)(34.5,.6)
 (1,1)(2.2,1.05)(3.7,1.15)(4.7,1.2)(5.6,1.2)(6.8,1.2)(6.3,1.1)(7.2,1)(8.7,1.15)(8.3,1)(9.2,.95)(10,.95)(10.9,1.1)(12.6,.9)(13.4,.75)(14.8,1.2)(14.6,1.35)(15.8,1)(16.7,.9)(17,.9)(19,1)(20.8,1.15)(21.3,1.05)(22,1.05)(23.7,1.05)(24.9,1)(25.5,.85)(27,1.15)(28.8,1.05)(29.2,1.1)(30.7,1.05)(31,.95)(32.2,1)(32.8,1.15)(33,1.2)(11,1.05)(12.2,.8)(13.7,1.05)(18.9,1.05)(20.2,1)(27.4,.95)
 (0,.7)(.4,.9)(.8,.7)(1.2,.85)(1.6,.75)(2,.9)(2.4,.7)(2.9,.6)(3.05,.45)(3.5,.6)(3.8,.95)(4.2,1.05)(4.6,.8)(5,.9)(5.4,1)(5.8,.75)(6.2,.7)(6.6,.85)(7,.7)(7.4,.85)(7.8,.65)(8.2,.8)(8.6,.55)(9,.7)(9.4,.5)(9.8,.6)(10.2,.75)(10.6,.5)(11,.7)(11.4,.75)(11.7,.45)(12,.65)(12.4,.55)(12.9,.7)(13.3,.45)(13.7,.9)(14.1,1.1)(14.5,.95)(14.9,.7)(15.3,.8)(15.7,.65)(16.1,.85)(16.5,.7)(16.9,.5)(17.3,.7)(17.6,.35)(18,.45)(18.4,.7)(18.8,.8)(19.2,.75)(19.6,.95)(20,.85)(20.4,.7)(20.8,.9)(21.2,.8)(21.6,.95)(22,.85)(22.4,.9)(22.8,.75)(23.2,.85)(23.6,.7)(24,.85)(24.4,.75)(24.8,.6)(25.2,.7)(25.6,.45)(26,.3)(26.5,.9)(26.9,.95)(27.2,.6)(27.6,.7)(28.2,.35)(28.6,.65)(29,.8)(29.4,.85)(29.8,.7)(30.2,.75)(30.6,.7)(31,.65)(31.4,.7)(31.8,.5)(32.2,.75)(32.6,.65)(33,.95)(33.4,.6)(33.8,.45)(34.5,.35)(35,.45)(35.7,.3)(36.4,.45)(36.7,.3)(37.5,.3)(37.9,.2)
 (.2,.95)(.6,1.1)(1,.85)(1.4,.95)(1.8,1.1)(2.3,.9)(2.7,.75)(3.6,.85)(4,1.25)(4.4,1.05)(4.9,1.1)(5.2,1.2)(5.7,1)(6,.95)(6.45,1)(6.9,.9)(7.3,1.05)(7.7,.9)(8,1.05)(8.5,.85)(8.9,.9)(9.6,.85)(10.3,.95)(10.8,.8)(11.2,.95)(11.9,.85)(12.4,.8)(13.1,.9)(13.55,1.1)(13.9,1.25)(14.3,1.3)(14.7,1.05)(15.1,.95)(15.5,.95)(15.9,.85)(16.3,1.05)(16.6,.95)(17.4,.9)(18.2,.7)(18.6,.95)(19.1,.95)(19.4,1)(19.9,1.1)(20.3,.95)(20.6,1.1)(21,1.1)(21.45,1.1)(21.9,1.2)(22.3,1.1)(22.6,.95)(23,1.05)(23.4,1)(23.9,1.05)(24.2,.95)(24.7,.85)(25.1,.95)(26.4,1.1)(26.75,1.2)(27.1,.9)(27.5,.95)(28.3,.6)(28.5,.9)(28.9,1)(29.3,1.05)(29.6,1)(30,1)(30.4,.95)(30.9,.85)(31.2,.95)(31.6,.8)(32,.95)(32.4,.9)(32.7,.85)(33.2,.85)(33.6,.8)(34.65,.95)(35.15,.7)(35.9,.55)(36.3,.7)(36.9,.85)(37.15,.55)(37.7,.5)};
\addplot[thrB,dashed,line width=.7pt,dash pattern=on 3.5pt off 1.8pt] coordinates {(0,6)(38.2,6)};
\addplot[black,line width=.5pt] coordinates {(7.57,0)(7.57,11.1)};
\addplot[black,line width=.4pt,dash pattern=on 2pt off .7pt] coordinates {(8.83,0)(8.83,11.1)};
\end{axis}
% ---------------- C : chromosome A6
\begin{axis}[manh, at={(17.75pt,395.85pt)}, width=406.45pt, height=167pt, xmax=34.04,
  xtick={1,2,...,9,11,13,...,33}, minor xtick={2,4,...,34},
  every major x tick/.style={draw=none},
  xticklabels={\M[1.25]{1},\M[1.25]{2},\M[1.25]{3},\M[1.25]{4},\M[1.25]{5},\M[1.25]{6},\M[1.25]{7},\M[1.25]{8},\M[1.25]{9},\M[1.25]{11},\M[1.25]{13},\M[1.25]{15},\M[1.25]{17},\M[1.25]{19},\M[1.25]{21},\M[1.25]{23},\M[1.25]{25},\M[1.25]{27},\M[1.25]{29},\M[1.25]{31},\M[1.25]{33}},
  xticklabel style={font=\fontsize{5.3}{5.5}\selectfont}]
\addplot[fill=grn,draw=none] coordinates {(0,0)(0,.8)(.3,.6)(.5,.1)(.8,.4)(1.2,.55)(1.6,.75)(2,.8)(2.4,.75)(2.8,.65)(3.2,.85)(3.5,.7)(3.8,.5)(4,.15)(4.3,.2)(4.6,.9)(5,.95)(5.4,.85)(5.8,1)(6.2,.75)(6.6,.8)(7,.85)(7.4,.7)(7.8,.9)(8.2,.7)(8.6,.6)(9,.45)(9.4,.4)(9.8,.75)(10.2,.65)(10.6,.9)(11,.55)(11.4,.75)(11.8,.35)(12.2,.45)(12.6,.3)(13,.4)(13.4,.45)(13.8,.25)(14.1,.05)(14.4,.35)(14.8,.5)(15.2,.4)(15.6,.6)(16,.65)(16.4,.55)(16.8,.45)(17.2,.4)(17.6,.35)(18,.3)(18.4,.25)(18.7,.4)(19,.6)(19.3,.95)(19.7,1.05)(20.1,1)(20.5,.75)(20.9,.85)(21.3,1)(21.7,.9)(22.1,.8)(22.5,.95)(22.9,1.1)(23.3,.95)(23.7,.8)(24.1,.95)(24.5,.85)(24.9,1)(25.3,.85)(25.7,.75)(26.1,.9)(26.5,.85)(26.9,.95)(27.3,.8)(27.7,.75)(28.1,.85)(28.5,.7)(28.9,.9)(29.3,1)(29.7,.7)(30.1,.5)(30.5,.75)(30.9,.9)(31.3,.85)(31.7,.7)(32.1,.6)(32.5,.75)(32.9,.85)(33.3,.7)(33.7,.55)(34.04,.7)(34.04,0)};
\addplot[dots=1.35pt,grn] coordinates {(25.6,7.48)(25.6,7.34)(25.6,6.9)(22.88,6.46)(22.88,6.34)(22.88,6.01)(22.88,5.93)(4.13,6.43)(26.47,5.73)(24.25,5.68)(25.58,5.43)(25.58,5.17)(26.66,5.26)(22.88,5.17)(21.95,4.97)(22.88,4.83)(22.88,4.69)(23.49,4.78)(23.49,4.5)(24.71,4.59)(26.28,4.59)(26.2,4.41)(26.35,4.37)(25.67,4.59)(25.67,4.34)(24.23,4.45)(23.87,4.25)(22.98,4.59)(22.98,4.37)(20.41,4.18)(19.01,4.15)(21.08,3.92)(25.1,3.99)(25,3.99)(23.49,3.92)(23.49,3.66)(22.64,3.78)(26.28,3.78)(26.5,3.71)(26.28,3.47)(26.4,3.36)(26.4,3.19)(24.23,3.57)(25.2,3.47)(25.2,3.27)(24.71,3.38)(23.87,3.29)(25.67,3.27)(22.12,3.4)(21.51,3.24)(22.98,3.22)(22.88,2.91)(20.38,3.08)(20.33,2.84)(33.25,3.31)(33.49,2.9)(32.76,2.69)(4.5,3.33)(4.76,3.03)(4.81,2.94)(4.04,3.03)(4.04,2.49)(2.48,3.71)(2.57,3.31)(2.57,3.25)(2.98,3.06)(2.69,2.27)(2.69,1.93)(2.69,1.73)(3.6,1.75)(3.6,1.54)(3.53,1.4)(2.21,1.88)(1.87,1.71)(1.13,1.36)(7.09,2.8)(7.48,2.38)(6.8,2.2)(6.44,2.35)(5.84,2.17)(5.98,2.03)(7.04,1.96)(7.09,1.61)(8,2.03)(9.93,2.28)(10.2,1.68)(11.85,1.86)(17.31,1.82)(16.06,1.43)(16.06,1.26)(30.14,2.69)(29.9,2.41)(29.9,1.89)(29.66,1.71)(29.25,1.96)(30.6,2.03)(30.72,1.82)(30.85,1.75)(30.77,1.61)(32.28,2.17)(32.07,2.1)(32.52,1.73)(32.52,1.47)(33.29,2.03)(33.29,1.68)(33.29,1.33)(34,2.03)(34,1.68)(28,2.24)(27.95,2.1)(28.2,1.89)(27.6,1.96)(27.47,2.24)(27.4,2.07)(27.19,2.34)(26.88,2.97)(26.81,2.66)(26.56,2.52)(26.08,2.52)(25.98,2.69)(26.4,2.17)(26.65,1.89)(26.88,1.89)(25.2,2.66)(25.67,2.17)(24.35,2.66)(24.11,2.94)(24,2.83)(23.56,2.66)(23.39,2.38)(23.49,2.03)(23.03,2.38)(23.15,2.03)(22.59,2.07)(22.18,2.06)(21.82,1.96)(21.95,2.66)(21.95,2.5)(20.99,2.41)(20.87,2.73)(20.63,2.73)(20.19,2.24)(20.19,2.03)(19.85,2.17)(19.66,2.45)(19.4,2.41)(19.11,1.96)(20.14,1.68)(20.99,1.68)(21.35,1.75)(19.52,1.68)(18.63,1.26)(18.34,.84)(17.78,.73)(16.42,1)(14.62,1.08)(14.02,.98)(12.93,.84)(12.57,.91)(12.2,.84)(11.97,1.33)(11.97,1.12)(11.54,1.05)(9.57,1.33)(9.57,1.12)(10.65,1.26)(10.17,1.19)(8.72,1.54)(8.24,1.61)(7.64,1.4)(7.16,1.26)(5.36,1.4)(5,1.19)(4.37,.98)
 (22.5,1.5)(23,1.4)(23.6,1.55)(24.2,1.6)(24.8,1.45)(25.4,1.55)(26,1.35)(26.6,1.5)(27.2,1.55)(27.8,1.35)(28.4,1.5)(29,1.4)(29.5,1.3)(30.2,1.35)(31,1.3)(31.6,1.2)(32.2,1.3)(32.9,1.2)(33.5,1.15)(21,1.4)(21.6,1.3)(20.4,1.35)(19.8,1.3)(19.2,1.25)(22.2,1.3)(23.3,1.25)(24.5,1.3)(25,1.25)(26.3,1.2)(27.5,1.2)(28.7,1.2)(29.9,1.15)(30.6,1.2)(8.9,1.05)(7.9,1.15)(6.6,1.2)(5.6,1.2)(3,1)(1.8,1)(.8,.8)(15.2,.75)
 (0,.8)(.3,.6)(.8,.4)(1.2,.55)(1.6,.75)(2,.8)(2.4,.75)(2.8,.65)(3.2,.85)(3.5,.7)(3.8,.5)(4.6,.9)(5,.95)(5.4,.85)(5.8,1)(6.2,.75)(6.6,.8)(7,.85)(7.4,.7)(7.8,.9)(8.2,.7)(8.6,.6)(9,.45)(9.4,.4)(9.8,.75)(10.2,.65)(10.6,.9)(11,.55)(11.4,.75)(11.8,.35)(12.2,.45)(12.6,.3)(13,.4)(13.4,.45)(13.8,.25)(14.4,.35)(14.8,.5)(15.2,.4)(15.6,.6)(16,.65)(16.4,.55)(16.8,.45)(17.2,.4)(17.6,.35)(18,.3)(18.4,.25)(18.7,.4)(19,.6)(19.3,.95)(19.7,1.05)(20.1,1)(20.5,.75)(20.9,.85)(21.3,1)(21.7,.9)(22.1,.8)(22.5,.95)(22.9,1.1)(23.3,.95)(23.7,.8)(24.1,.95)(24.5,.85)(24.9,1)(25.3,.85)(25.7,.75)(26.1,.9)(26.5,.85)(26.9,.95)(27.3,.8)(27.7,.75)(28.1,.85)(28.5,.7)(28.9,.9)(29.3,1)(29.7,.7)(30.1,.5)(30.5,.75)(30.9,.9)(31.3,.85)(31.7,.7)(32.1,.6)(32.5,.75)(32.9,.85)(33.3,.7)(33.7,.55)(34.04,.7)
 (.15,1)(1,.7)(1.4,.85)(2.2,1)(3,.95)(3.35,1.05)(4.8,1.15)(5.2,1.05)(5.6,1.05)(6,.95)(6.4,1)(6.8,1.05)(7.2,1)(7.6,.95)(8,1.1)(8.4,.9)(9.2,.7)(9.7,.95)(10.4,.85)(10.8,1.05)(11.2,.85)(11.6,.6)(12.4,.65)(13.2,.6)(14.6,.7)(15.4,.7)(15.8,.85)(16.2,.85)(16.6,.7)(17,.65)(17.4,.6)(19.2,.85)(19.5,1.15)(19.9,1.2)(20.3,1.15)(20.7,1)(21.1,1.15)(21.5,1.15)(21.9,1.05)(22.3,1.15)(22.7,1.2)(23.1,1.25)(23.5,1.15)(23.9,1.05)(24.3,1.15)(24.7,1.1)(25.1,1.15)(25.5,1.05)(25.9,1.1)(26.3,1.05)(26.7,1.15)(27.1,1.1)(27.5,1)(27.9,1)(28.3,1.05)(28.7,1)(29.1,1.1)(29.5,1.15)(29.9,.9)(30.3,.8)(30.7,1)(31.1,1.05)(31.5,1)(31.9,.85)(32.3,.95)(32.7,1)(33.1,.95)(33.5,.85)(33.9,.95)};
\addplot[thrB,dashed,line width=.7pt,dash pattern=on 3.5pt off 1.8pt] coordinates {(0,6)(34.04,6)};
\addplot[black!70,line width=.5pt] coordinates {(3.79,0)(3.79,11.1)};
\addplot[black!70,line width=.5pt] coordinates {(4.87,0)(4.87,11.1)};
\end{axis}
% ---------------- D : chromosome A23
\begin{axis}[manh, at={(480.5pt,114.15pt)}, width=384pt, height=167pt, xmax=25.48,
  xtick={1,2,...,25}, every major x tick/.style={draw=none},
  xticklabels={\M[1.25]{1},\M[1.25]{2},\M[1.25]{3},\M[1.25]{4},\M[1.25]{5},\M[1.25]{6},\M[1.25]{7},\M[1.25]{8},\M[1.25]{9},\M[1.25]{10},\M[1.25]{11},\M[1.25]{12},\M[1.25]{13},\M[1.25]{14},\M[1.25]{15},\M[1.25]{16},\M[1.25]{17},\M[1.25]{18},\M[1.25]{19},\M[1.25]{20},\M[1.25]{21},\M[1.25]{22},\M[1.25]{23},\M[1.25]{24},\M[1.25]{25}},
  xticklabel style={font=\fontsize{5.3}{5.5}\selectfont}]
\addplot[fill=org,draw=none] coordinates {(0,0)(0,.55)(.2,.6)(.4,.5)(.6,.15)(.8,.15)(1,.6)(1.4,.65)(1.8,.7)(2.2,.55)(2.6,.4)(3,.45)(3.3,.6)(3.7,.9)(4,.75)(4.3,.55)(4.6,.2)(4.8,.15)(5,.5)(5.3,.85)(5.6,.7)(6,.65)(6.4,.8)(6.8,.7)(7.2,.75)(7.6,.8)(8,.9)(8.3,.85)(8.5,.55)(8.8,.7)(9.1,.5)(9.3,.55)(9.45,.15)(9.7,.6)(10,.75)(10.4,.65)(10.8,.8)(11.2,.95)(11.6,1.05)(12,.9)(12.4,.75)(12.8,.7)(13.2,.65)(13.6,.6)(14,.75)(14.4,.6)(14.8,.75)(15.2,.7)(15.6,.65)(16,.75)(16.4,.6)(16.8,.8)(17.2,.85)(17.6,.9)(18,.75)(18.3,.5)(18.5,.15)(18.8,.35)(19,.3)(19.3,.3)(19.35,.55)(19.5,.1)(19.8,.05)(19.9,.9)(20.2,.7)(20.6,.7)(21,.6)(21.4,.85)(21.8,.65)(22.2,1)(22.6,.95)(23,.65)(23.4,.75)(23.8,.75)(24,.85)(24.2,.95)(24.35,.3)(24.7,.2)(24.9,.1)(25.1,.6)(25.3,.35)(25.48,.3)(25.48,0)};
\addplot[dots=1.35pt,org] coordinates {(11.34,6.59)(5.79,5.06)(8.64,3.62)(17.18,3.55)(17.18,3.5)(13.98,3.52)(12.99,3.37)(12.58,3.15)(22.37,3.38)(11.63,2.94)(3,2.84)(3,2.45)(22.42,2.55)(21.18,2.52)(18,2.48)(18.29,2.32)(18.29,2.14)(15.56,2.56)(15.12,2.36)(24.04,2.41)(24.04,2.17)(24.04,2)(24.25,2.31)(24.25,2.07)(22.91,2.27)(23.6,2.14)(23.6,1.93)(23.06,1.93)(13.3,2.28)(12.52,2.06)(11.94,2.11)(11.8,2.2)(11.56,2.18)(11.47,2.06)(10.61,2.24)(10.61,2.06)(17.5,2.15)(17.1,1.96)(7.97,2.28)(7.97,1.89)(7.64,2)(7.97,1.68)(6.42,1.96)(6.42,1.75)(5.75,1.89)(5.75,1.79)(5.19,1.75)(4.24,1.89)(4,1.82)(2.66,2.11)(.56,2.07)(.24,1.96)(.24,1.75)(.18,1.47)(.45,1.4)(.82,1.61)(3.42,1.75)(3.3,1.68)(3.72,1.61)(19.4,1.79)(21.86,1.98)(21.86,1.7)(21.86,1.46)(22.4,1.96)(22.4,1.85)(22.35,1.75)(22.27,1.75)(15.25,2)(15.25,1.82)(15.25,1.47)(24.08,1.61)(24.08,1.4)(24.08,1.25)(23.6,1.68)(23.6,1.47)(23.6,1.26)(22.68,1.52)(22.68,1.26)(22.68,.91)(18.1,1.61)(18,1.4)(17.8,1.68)(17.5,1.61)(17.48,1.4)(17,1.5)(16.6,1.5)(15.6,1.4)(14.3,1.23)(13.6,1.5)(13.6,1.19)(13.28,1.57)(13.28,1.33)(12.88,1.5)(12.75,1.05)(11.8,1.43)(11.43,1.61)(11.5,1.33)(10.97,1.33)(10.83,1.19)(9.7,1.79)(9.57,1.68)(9.7,1.12)(9.57,1.33)(8.8,1.43)(8.7,1.26)(8.06,1.54)(7.8,1.47)(7.1,1.54)(6.7,1.22)(6.1,1.43)(5.75,1.26)(3.99,1.33)(3.75,1.4)(3,1.4)(2.7,1.26)(1.5,1.4)(1.05,1.08)(.15,1.05)(25.3,1.05)(24.9,1.23)(25.3,.55)(24.5,.95)(20.15,1.3)(20.5,1.3)(21.1,1.25)(20.8,1.1)(19,.9)(18.7,1.05)(16.3,1.05)(14.6,1)(10.3,1.05)(8.3,1.1)(6.4,1)(5.1,.9)(2.2,.9)(1.9,.85)(.7,.55)
 (0,.55)(.2,.6)(.4,.5)(1,.6)(1.4,.65)(1.8,.7)(2.2,.55)(2.6,.4)(3,.45)(3.3,.6)(3.7,.9)(4,.75)(4.3,.55)(5,.5)(5.3,.85)(5.6,.7)(6,.65)(6.4,.8)(6.8,.7)(7.2,.75)(7.6,.8)(8,.9)(8.3,.85)(8.5,.55)(8.8,.7)(9.1,.5)(9.3,.55)(9.7,.6)(10,.75)(10.4,.65)(10.8,.8)(11.2,.95)(11.6,1.05)(12,.9)(12.4,.75)(12.8,.7)(13.2,.65)(13.6,.6)(14,.75)(14.4,.6)(14.8,.75)(15.2,.7)(15.6,.65)(16,.75)(16.4,.6)(16.8,.8)(17.2,.85)(17.6,.9)(18,.75)(18.3,.5)(18.8,.35)(19.35,.55)(19.9,.9)(20.2,.7)(20.6,.7)(21,.6)(21.4,.85)(21.8,.65)(22.2,1)(22.6,.95)(23,.65)(23.4,.75)(23.8,.75)(24,.85)(24.2,.95)(25.1,.6)(25.3,.35)
 (.1,.75)(.9,.8)(1.2,.85)(1.6,.9)(2,.85)(2.4,.7)(2.85,.65)(3.15,.8)(3.5,1.05)(3.85,1)(4.15,.8)(5.15,.75)(5.45,1.05)(5.85,.9)(6.2,.95)(6.6,1)(7,.9)(7.4,.95)(7.8,1)(8.15,1.1)(8.9,.95)(9.2,.75)(9.8,.85)(10.15,.95)(10.55,.85)(11,1.05)(11.35,1.15)(11.75,1.2)(12.2,1.05)(12.6,.95)(13,.9)(13.4,.85)(13.8,.85)(14.2,.95)(14.6,.8)(15,.95)(15.4,.9)(15.8,.85)(16.2,.95)(16.6,.85)(17,1)(17.4,1.1)(17.8,1.1)(18.15,.95)(19.1,.55)(19.95,1.1)(20.4,.95)(20.8,.9)(21.2,.85)(21.6,1.05)(22,.9)(22.4,1.2)(22.8,1.1)(23.2,.9)(23.6,.95)(24,1.05)(24.15,1.15)(25.15,.8)(25.4,.6)};
\addplot[thrB,dashed,line width=.7pt,dash pattern=on 3.5pt off 1.8pt] coordinates {(0,6)(25.48,6)};
\end{axis}
% ---------------- overlay in page pixels : gene tracks, labels, arrows
\begin{axis}[scale only axis, anchor=south west, at={(0pt,0pt)}, width=900pt, height=852.5pt,
  xmin=0, xmax=1800, ymin=0, ymax=1705, y dir=reverse, hide axis, clip=false]
% panel letters
\node[font=\fontsize{21}{21}\selectfont\serifbf\bfseries] at (1783,22) {\M[1.05]{A}};
\node[font=\fontsize{21}{21}\selectfont\serifbf\bfseries] at (1782,563) {\M[1.05]{B}};
\node[font=\fontsize{21}{21}\selectfont\serifbf\bfseries] at (912,565) {\M[1.05]{C}};
\node[font=\fontsize{21}{21}\selectfont\serifbf\bfseries] at (1778,1158) {\M[1.05]{D}};
% axis titles
\node[font=\fontsize{5.6}{6}\selectfont] at (933.6,494) {\M[1.9]{CHROM}};
\node[font=\fontsize{5.5}{6}\selectfont] at (1748,248) {\R[1.65]{-log10(\textit{p}-value)}};
\node[font=\fontsize{5.8}{6}\selectfont] at (1747,746) {\R[1.45]{-log10(\textit{p}-value)}};
\node[font=\fontsize{5.8}{6}\selectfont] at (881,746) {\R[1.45]{-log10(\textit{p}-value)}};
\node[font=\fontsize{5.8}{6}\selectfont] at (1759,1310) {\R[1.45]{-log10(\textit{p}-value)}};
\node[font=\fontsize{5.8}{6}\selectfont] at (1306.5,936) {\M[1.58]{Physical distance (Mb)}};
\node[font=\fontsize{5.8}{6}\selectfont] at (441.5,936) {\M[1.58]{Physical distance (Mb)}};
\node[font=\fontsize{5.8}{6}\selectfont] at (1345,1498) {\M[1.58]{Physical distance (Mb)}};
% gene names and arrows in A
\tikzset{gene/.style={anchor=east,font=\gn,inner sep=0pt},
  garrow/.style={-{Stealth[length=7pt,width=7pt]},line width=.8pt,black},
  tri/.style={dash pattern=on 1.4pt off .9pt,line width=.55pt,black},
  sm/.style={anchor=east,inner sep=0pt,font=\fontsize{7.6}{8}\selectfont},
  smb/.style={anchor=east,inner sep=0pt,font=\fontsize{7.5}{8}\selectfont\bfseries},
  as/.style={anchor=east,inner sep=0pt,font=\fontsize{5.9}{6}\selectfont\bfseries},
  gn2/.style={anchor=east,inner sep=0pt,font=\fontsize{7.2}{8}\selectfont\bfseries\itshape}}
\node[gene] at (1622.3,53.4) {\M[1.62]{wnt3a}};
\node[gene] at (1625.9,80.5) {\M[1.62]{slc22a23}};
\node[gene] at (1672.3,224.8) {\M[1.62]{ephrinB2}};
\node[gene] at (1495,168) {\M[1.62]{fgf11a}};
\node[gene] at (1358.9,179) {\M[1.62]{ttc3}};
\node[gene] at (1480.4,216.4) {\M[1.62]{rbp6l}};
\node[gene] at (1484.8,245.4) {\M[1.62]{hemk1}};
\node[gene] at (1492,268) {\M[1.62]{oca2}};
\node[gene] at (1120.4,229.6) {\M[1.62]{ubr4}};
\node[gene] at (1145.7,261.7) {\M[1.62]{phc2a}};
\node[gene] at (422.7,204) {\M[1.62]{atg16l}};
\node[gene] at (421,256) {\M[1.62]{bco2}};
\node[gene] at (682,250.7) {\M[1.62]{bcmo1}};
\node[gene] at (975.5,222.7) {\M[1.62]{rap1ga1l}};
\node[gene] at (969.4,249) {\M[1.62]{ephB2}};
\draw[garrow] (1663.4,60.2)--(1629,58);
\draw[garrow] (1663.4,86.9)--(1631,84.5);
\draw[garrow] (1696,246.8)--(1664.7,236.7);
\draw[garrow] (1509,199.5)--(1492,181.5);
\draw[garrow] (1395.5,189.7)--(1363.4,181.5);
\draw[garrow] (1525.4,229.2)--(1492.9,222.1);
\draw[garrow] (1525,237.3)--(1492.9,246.1);
\draw[garrow] (1527.7,276.5)--(1496,268.8);
\draw[garrow] (464,216)--(431.8,207.7);
\draw[garrow] (464,265.7)--(431.8,257.3);
\draw[garrow] (721,265)--(689.4,256.7);
\draw[garrow] (1009.4,240)--(977.3,231);
\draw[garrow] (1009.4,260)--(977.3,251.7);
\draw[garrow] (1021.5,248.3)--(1051.8,238.3);
\draw[garrow] (1021.5,274)--(1051.8,264);
% panel B track
\addplot[black!75,line width=.35pt] coordinates {(1557.5,913.3)(1645,957)};
\addplot[black!75,line width=.35pt,dash pattern=on 1.5pt off .8pt] coordinates {(1531.7,913.3)(1381,956)};
\node[sm] at (1713,966) {\M{start:\ \ 8.8327}};
\node[sm] at (1083,966) {\M{start:\ \ 8.8427}};
\node[sm,anchor=center] at (1307,966) {\M{Chromosome A1(Mb)}};
\addplot[skyb,line width=5pt] coordinates {(928,983)(1713,983)};
\addplot[black,line width=.7pt] coordinates {(934,1006)(1568,1006)};
\fill[top color=white!55!blue!70!black,bottom color=thrB] (1568,1001) rectangle (1593,1012);
\addplot[only marks,mark=|,mark size=3.4pt,exon,mark options={line width=.6pt}] coordinates {(934,1006)(937,1006)(941,1006)(944,1006)(947,1006)(950,1006)(953,1006)(956,1006)(959,1006)(962,1006)(965,1006)(968,1006)(971,1006)(1088,1006)(1091,1006)(1094,1006)(1098,1006)(1102,1006)(1114,1006)(1117,1006)(1120,1006)(1123,1006)(1125,1006)(1170,1006)(1187,1006)(1190,1006)(1193,1006)(1289,1006)(1291,1006)(1503,1006)(1506,1006)(1509,1006)(1512,1006)(1515,1006)(1518,1006)(1520,1006)(1523,1006)(1529,1006)(1532,1006)(1535,1006)(1538,1006)(1541,1006)(1543,1006)(1548.5,1006)(1564.5,1006)(1566,1006)};
\node[gn2] at (1711,1006) {\M{ephrinB2}};
\draw[-{Triangle[length=7pt,width=10pt]},skyb,line width=2.2pt] (1534.5,1036)--(1534.5,1014);
\addplot[redl,line width=1.5pt] coordinates {(928,1038)(1561,1038)};
\addplot[grnl,line width=1.5pt] coordinates {(1192,1089)(1561,1089)};
\draw[tri] (1533,1040)--(1533,1065)--(1478,1065)--cycle;
\draw[tri] (1533,1091)--(1533,1116)--(1478,1116)--cycle;
\node[smb] at (1470,1065) {\M{G(8840429)\ \ Synonymous}};
\node[smb] at (1471,1118) {\M{A}};
\node[as] at (1673,1054) {\M{Assembled}};
\node[as] at (1673,1078) {\M{sequence}};
% panel C track
\addplot[black!60,line width=.35pt] coordinates {(757.7,913.3)(845.5,956.7)};
\addplot[black!60,line width=.35pt] coordinates {(731.9,913.3)(582.6,956.7)};
\node[sm] at (839,966) {\M{start:\ \ 25.635}};
\node[sm] at (208,966) {\M{start:\ \ 25.653}};
\node[sm,anchor=center] at (434,966) {\M{Chromosome A6(Mb)}};
\addplot[skyb,line width=5pt] coordinates {(54.4,983)(839,983)};
\addplot[black!80,line width=.6pt] coordinates {(204,1006)(696,1006)};
\fill[top color=white!55!blue!70!black,bottom color=thrB] (58.5,1001) rectangle (203.7,1012);
\fill[top color=white!55!blue!70!black,bottom color=thrB] (696,1001) rectangle (722,1012);
\addplot[only marks,mark=|,mark size=3.2pt,exonb,mark options={line width=.5pt}] coordinates {(204.8,1006)(258.2,1006)(262.8,1006)(303,1006)(352.4,1006)(398.9,1006)(434.5,1006)(439,1006)(449.4,1006)(456.3,1006)(463.2,1006)(481.5,1006)(571,1006)(607.3,1006)(621,1006)(696,1006)};
\addplot[only marks,mark=|,mark size=3.2pt,exonb,mark options={line width=2.6pt}] coordinates {(340.3,1006)(381.6,1006)(390.3,1006)(473.5,1006)};
\addplot[only marks,mark=|,mark size=3.2pt,exonb,mark options={line width=1.4pt}] coordinates {(428.7,1006)(469,1006)};
\addplot[exonb,line width=4.6pt,line cap=round] coordinates {(636,1006)(674,1006)};
\node[gn2] at (805,1006) {\M{rbp6l}};
\draw[-{Triangle[length=7pt,width=10pt]},skyb,line width=2.2pt] (669,1036)--(669,1016);
\addplot[redl,line width=1.5pt] coordinates {(54.4,1038.7)(689,1038.7)};
\addplot[grnl,line width=1.5pt] coordinates {(317,1089)(689,1089)};
\draw[tri] (668.7,1041.7)--(668.7,1066)--(614,1066)--cycle;
\draw[tri] (659,1091.7)--(659,1116.7)--(604,1116.7)--cycle;
\node[smb] at (595,1066) {\M{C(25637828)\ \ Nonsynonymous}};
\node[smb] at (595,1118) {\M{G}};
\node[as] at (800,1054) {\M{Assembled}};
\node[as] at (800,1078) {\M{sequence}};
% panel D track
\node[sm] at (1720.6,1541.7) {\M{start:\ \ 10.852}};
\node[sm] at (1089,1541.7) {\M{start:\ \ 10.899}};
\node[sm,anchor=center] at (1310,1541.7) {\M{Chromosome A23(Mb)}};
\addplot[skyb,line width=5pt] coordinates {(935.6,1559)(1720.6,1559)};
\addplot[black,line width=.7pt] coordinates {(962,1582)(1653,1582)};
\fill[top color=white!55!blue!70!black,bottom color=thrB] (944,1577) rectangle (962,1588);
\addplot[only marks,mark=|,mark size=3.2pt,exon!85!black,mark options={line width=.55pt}] coordinates {(963,1582)(966,1582)(970,1582)(984,1582)(987,1582)(990,1582)(993,1582)(995,1582)(999,1582)(1002,1582)(1006,1582)(1009,1582)(1012,1582)(1020,1582)(1023,1582)(1026,1582)(1029,1582)(1032,1582)(1035,1582)(1038,1582)(1042,1582)(1048,1582)(1051,1582)(1054,1582)(1057,1582)(1060,1582)(1063,1582)(1066,1582)(1069,1582)(1072,1582)(1075,1582)(1078,1582)(1081,1582)(1084,1582)(1086,1582)(1088,1582)(1091,1582)(1106,1582)(1109,1582)(1112,1582)(1115,1582)(1118,1582)(1121,1582)(1125,1582)(1129,1582)(1136,1582)(1139,1582)(1142,1582)(1145,1582)(1148,1582)(1152,1582)(1155,1582)(1158,1582)(1161,1582)(1164,1582)(1185,1582)(1188,1582)(1192,1582)(1203,1582)(1206,1582)(1210,1582)(1223,1582)(1275,1582)(1278,1582)(1281,1582)(1284,1582)(1287,1582)(1290,1582)(1293,1582)(1297,1582)(1299,1582)(1305,1582)(1316,1582)(1321,1582)(1327,1582)(1330,1582)(1334,1582)(1338,1582)(1351,1582)(1354,1582)(1358,1582)(1362,1582)(1373,1582)(1376,1582)(1379,1582)(1383,1582)(1386,1582)(1390,1582)(1393,1582)(1413,1582)(1416,1582)(1420,1582)(1425,1582)(1445,1582)(1447,1582)(1449,1582)(1452,1582)(1455,1582)(1458,1582)(1461,1582)(1465,1582)(1469,1582)(1476,1582)(1479,1582)(1483,1582)(1487,1582)(1491,1582)(1506,1582)(1509,1582)(1512,1582)(1516,1582)(1520,1582)(1524,1582)(1527,1582)(1530,1582)(1539,1582)(1543,1582)(1559,1582)(1563,1582)(1568,1582)(1572,1582)(1576,1582)(1580,1582)(1584,1582)(1588,1582)(1592,1582)(1595,1582)(1612,1582)(1616,1582)(1620,1582)(1653,1582)};
\node[gn2] at (1720.6,1582) {\M{ubr4}};
\draw[-{Triangle[length=7pt,width=10pt]},skyb,line width=2.2pt] (1613,1612)--(1613,1590);
\addplot[redl,line width=1.5pt] coordinates {(1014,1614)(1647.6,1614)};
\addplot[grnl,line width=1.5pt] coordinates {(1263.6,1664)(1633,1664)};
\draw[tri] (1612,1617)--(1612,1642)--(1557,1642)--cycle;
\draw[tri] (1610,1667)--(1610,1692)--(1557,1692)--cycle;
\node[smb] at (1550.5,1642) {\M{C(10883154) Synonymous}};
\node[smb] at (1550,1692) {\M{T}};
\node[as] at (1731.5,1629) {\M{Assembled}};
\node[as] at (1731.5,1653) {\M{sequence}};
\end{axis}
\end{tikzpicture}
\end{document}
